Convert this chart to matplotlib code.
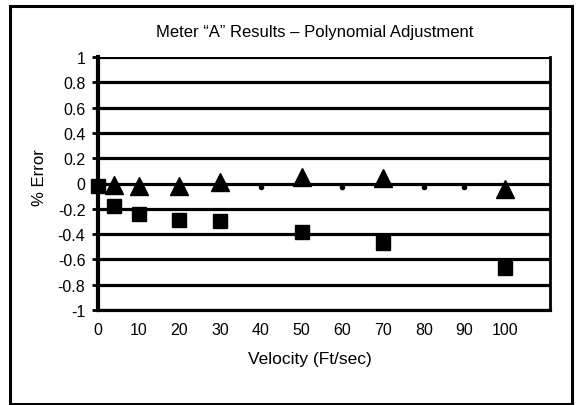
import numpy as np
import matplotlib.pyplot as plt
from matplotlib.patches import Rectangle

plt.rcParams['font.family'] = ['Liberation Sans', 'DejaVu Sans']

# Datos
tri_x = [4, 10, 20, 30, 50, 70, 100]
tri_y = [-0.01, -0.02, -0.02, 0.01, 0.05, 0.045, -0.04]

sq_x = [0, 4, 10, 20, 30, 50, 70, 100]
sq_y = [-0.02, -0.18, -0.245, -0.285, -0.30, -0.38, -0.47, -0.67]

dot_x = [40, 60, 80, 90]
dot_y = [-0.03, -0.03, -0.03, -0.03]

y_ticks = [1, 0.8, 0.6, 0.4, 0.2, 0, -0.2, -0.4, -0.6, -0.8, -1]
y_labels = ["1", "0.8", "0.6", "0.4", "0.2", "0", "-0.2", "-0.4", "-0.6", "-0.8", "-1"]
x_ticks = [0, 10, 20, 30, 40, 50, 60, 70, 80, 90, 100]

fig = plt.figure(figsize=(5.79, 4.06), dpi=100)
ax = fig.add_axes([98 / 579, 1 - 311 / 406, 452 / 579, 253 / 406])

# lineas horizontales gruesas
for v in y_ticks:
    ax.axhline(v, color='black', lw=2.3, zorder=1)

ax.plot(sq_x, sq_y, 's', color='black', ms=10, zorder=3, clip_on=False)
ax.plot(tri_x, tri_y, '^', color='black', ms=13, zorder=4, clip_on=False)
ax.plot(dot_x, dot_y, 'o', color='black', ms=3, zorder=3)

ax.set_xlim(0, 111)
ax.set_ylim(-1, 1)
ax.set_yticks(y_ticks)
ax.set_yticklabels(y_labels)
ax.set_xticks(x_ticks)

ax.spines['top'].set_visible(False)
ax.spines['left'].set_linewidth(3)
ax.spines['bottom'].set_linewidth(2.3)
ax.spines['right'].set_linewidth(2)
ax.tick_params(axis='y', length=4, width=2, pad=5, labelsize=11.5)
ax.tick_params(axis='x', length=0, pad=9, labelsize=11.5)

fig.text(315 / 579, 1 - 33 / 406, 'Meter \u201cA\u201d Results \u2013 Polynomial Adjustment',
         ha='center', va='center', fontsize=12)
fig.text(40 / 579, 1 - 178 / 406, '% Error', rotation=90,
         ha='center', va='center', fontsize=12)
fig.text(310 / 579, 1 - 360 / 406, 'Velocity (Ft/sec)',
         ha='center', va='center', fontsize=12.5)

# marco exterior
fig.patches.append(Rectangle((10 / 579, 1 / 406), 562 / 579, 398 / 406,
                             transform=fig.transFigure, fill=False,
                             edgecolor='black', lw=2.2))

fig.savefig('out.png', dpi=100)
